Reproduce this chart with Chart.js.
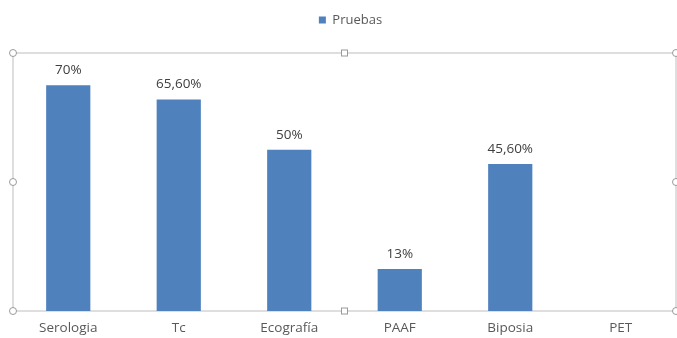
<!DOCTYPE html>
<html>
<head>
<meta charset="utf-8">
<script src="https://cdn.jsdelivr.net/npm/chart.js@4/dist/chart.umd.min.js"></script>
<style>
  html, body { margin: 0; padding: 0; background: #ffffff; }
  #wrap { width: 677px; height: 338px; position: relative; }
</style>
</head>
<body>
<div id="wrap"><canvas id="c"></canvas></div>
<script>
// Porcentaje de uso de cada prueba diagnóstica
const categories = ['Serologia', 'Tc', 'Ecografía', 'PAAF', 'Biposia', 'PET'];
const pruebas = [70, 65.6, 50, 13, 45.6, null];
const seriesName = 'Pruebas';
const yMin = 0;
const yMax = 80;

const FONT = "'Open Sans', 'DejaVu Sans', sans-serif";
const BAR_COLOR = '#4F81BD';
const TEXT_COLOR = '#595959';

function pct(v) {
  return Number.isInteger(v) ? v + '%' : v.toFixed(2).replace('.', ',') + '%';
}

// Marco gris del área de trazado con sus tiradores de selección
const plotFrame = {
  id: 'plotFrame',
  beforeDatasetsDraw(chart) {
    const { ctx, chartArea: a } = chart;
    ctx.save();
    ctx.strokeStyle = '#d4d4d4';
    ctx.lineWidth = 1.5;
    ctx.strokeRect(a.left, a.top, a.right - a.left, a.bottom - a.top);
    ctx.restore();
  },
  afterDatasetsDraw(chart) {
    const { ctx, chartArea: a } = chart;
    const midX = (a.left + a.right) / 2;
    const midY = (a.top + a.bottom) / 2;
    ctx.save();
    ctx.fillStyle = '#ffffff';
    ctx.strokeStyle = '#9a9a9a';
    ctx.lineWidth = 1;
    const circles = [
      [a.left, a.top], [a.right, a.top], [a.left, a.bottom], [a.right, a.bottom],
      [a.left, midY], [a.right, midY]
    ];
    circles.forEach(([x, y]) => {
      ctx.beginPath();
      ctx.arc(x, y, 3.5, 0, Math.PI * 2);
      ctx.fill();
      ctx.stroke();
    });
    [[midX, a.top], [midX, a.bottom]].forEach(([x, y]) => {
      ctx.fillRect(x - 3, y - 3, 6, 6);
      ctx.strokeRect(x - 3, y - 3, 6, 6);
    });
    ctx.restore();
  }
};

// Etiquetas de valor encima de cada barra
const valueLabels = {
  id: 'valueLabels',
  afterDatasetsDraw(chart) {
    const { ctx } = chart;
    const meta = chart.getDatasetMeta(0);
    const data = chart.data.datasets[0].data;
    ctx.save();
    ctx.font = '13.5px ' + FONT;
    ctx.fillStyle = '#404040';
    ctx.textAlign = 'center';
    ctx.textBaseline = 'middle';
    meta.data.forEach((bar, i) => {
      const v = data[i];
      if (v === null || v === undefined) return;
      ctx.fillText(pct(v), bar.x, bar.y - 15);
    });
    ctx.restore();
  }
};

// Desplaza la leyenda ligeramente a la derecha
const legendShift = {
  id: 'legendShift',
  afterLayout(chart) {
    if (chart.legend) {
      chart.legend.left += 6;
      chart.legend.right += 6;
    }
  }
};

new Chart(document.getElementById('c'), {
  type: 'bar',
  data: {
    labels: categories,
    datasets: [{
      label: seriesName,
      data: pruebas,
      backgroundColor: BAR_COLOR,
      borderWidth: 0,
      categoryPercentage: 1.0,
      barPercentage: 0.4
    }]
  },
  options: {
    responsive: true,
    maintainAspectRatio: false,
    animation: false,
    devicePixelRatio: 1,
    layout: { padding: { top: 3.5, left: 13, right: 1, bottom: 0 } },
    scales: {
      x: {
        grid: { display: false, drawTicks: false },
        border: { display: false },
        ticks: {
          color: TEXT_COLOR,
          font: { family: FONT, size: 13.5 },
          padding: 9,
          maxRotation: 0,
          autoSkip: false
        },
        afterFit(scale) { scale.height = 27; }
      },
      y: {
        display: false,
        min: yMin,
        max: yMax
      }
    },
    plugins: {
      legend: {
        position: 'top',
        weight: 3000,
        labels: {
          color: TEXT_COLOR,
          font: { family: FONT, size: 13 },
          boxWidth: 7,
          boxHeight: 7,
          padding: 10
        }
      },
      title: {
        display: true,
        text: '',
        font: { size: 10 },
        padding: { top: 4.5, bottom: 0 }
      },
      tooltip: { enabled: false }
    }
  },
  plugins: [plotFrame, valueLabels, legendShift]
});
</script>
</body>
</html>
